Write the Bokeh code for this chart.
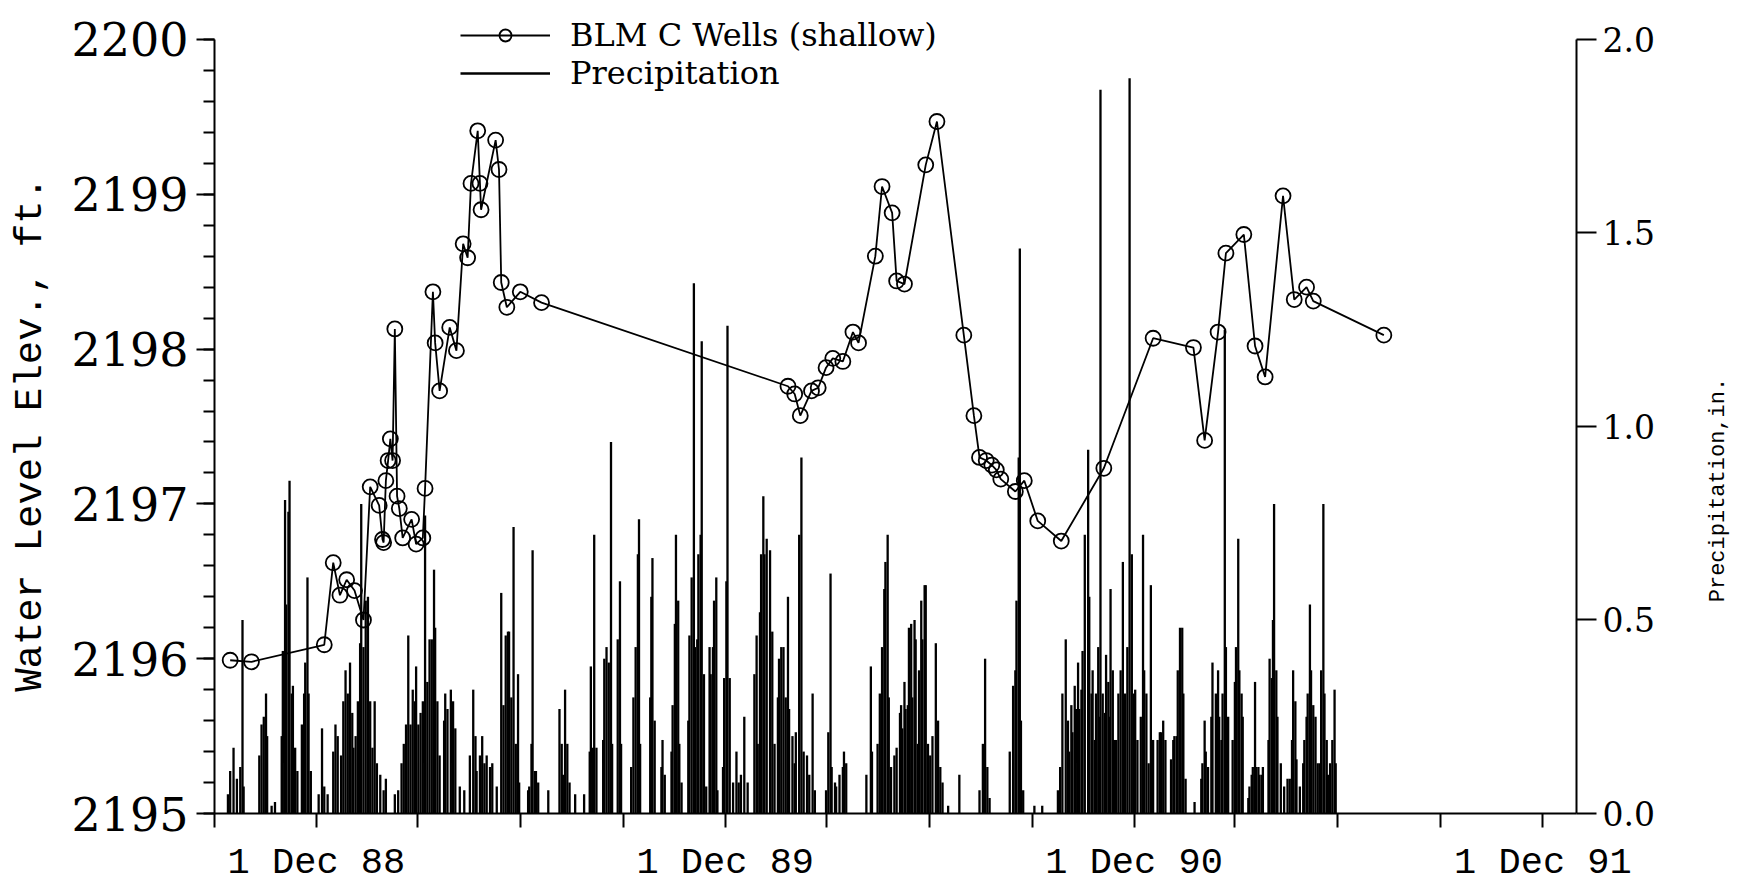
import pandas as pd
from math import pi
from bokeh.plotting import figure
from bokeh.models import (Range1d, LinearAxis, SingleIntervalTicker, FixedTicker,
                          Legend, LegendItem, ColumnDataSource, PrintfTickFormatter)
from bokeh.embed import file_html
from bokeh.resources import INLINE

# ---------------- data ----------------
# Water level, BLM C Wells (shallow), ft
well_date = ["1988-09-15", "1988-10-04", "1988-12-08", "1988-12-16", "1988-12-22", "1988-12-28",
             "1989-01-04", "1989-01-12", "1989-01-18", "1989-01-26", "1989-01-29", "1989-01-30",
             "1989-02-01", "1989-02-03", "1989-02-05", "1989-02-07", "1989-02-09", "1989-02-11",
             "1989-02-13", "1989-02-16", "1989-02-24", "1989-02-28", "1989-03-06", "1989-03-08",
             "1989-03-15", "1989-03-17", "1989-03-21", "1989-03-30", "1989-04-05", "1989-04-11",
             "1989-04-15", "1989-04-18", "1989-04-24", "1989-04-26", "1989-04-27", "1989-05-10",
             "1989-05-13", "1989-05-15", "1989-05-20", "1989-06-01", "1989-06-20",
             "1990-01-26", "1990-02-01", "1990-02-06", "1990-02-16", "1990-02-22", "1990-03-01",
             "1990-03-07", "1990-03-16", "1990-03-25", "1990-03-30", "1990-04-14", "1990-04-20",
             "1990-04-29", "1990-05-03", "1990-05-10", "1990-05-29", "1990-06-08", "1990-07-02",
             "1990-07-11", "1990-07-16", "1990-07-22", "1990-07-27", "1990-07-31", "1990-08-04",
             "1990-08-17", "1990-08-25", "1990-09-06", "1990-09-27", "1990-11-04", "1990-12-18",
             "1991-01-23", "1991-02-02", "1991-02-14", "1991-02-21", "1991-03-09", "1991-03-19",
             "1991-03-28", "1991-04-13", "1991-04-23", "1991-05-04", "1991-05-10", "1991-07-12"]
well_level = [2195.99, 2195.98, 2196.09, 2196.62, 2196.41, 2196.51,
              2196.44, 2196.25, 2197.11, 2196.99, 2196.77, 2196.75,
              2197.15, 2197.28, 2197.42, 2197.28, 2198.13, 2197.05,
              2196.97, 2196.78, 2196.90, 2196.74, 2196.78, 2197.10,
              2198.37, 2198.04, 2197.73, 2198.14, 2197.99, 2198.68,
              2198.59, 2199.07, 2199.41, 2199.07, 2198.90, 2199.35,
              2199.16, 2198.43, 2198.27, 2198.37, 2198.30,
              2197.76, 2197.71, 2197.57, 2197.73, 2197.75, 2197.88,
              2197.94, 2197.92, 2198.11, 2198.04, 2198.60, 2199.05,
              2198.88, 2198.44, 2198.42, 2199.19, 2199.47, 2198.09,
              2197.57, 2197.30, 2197.28, 2197.25, 2197.22, 2197.16,
              2197.08, 2197.15, 2196.89, 2196.76, 2197.23, 2198.07,
              2198.01, 2197.41, 2198.11, 2198.62, 2198.74, 2198.02,
              2197.82, 2198.99, 2198.32, 2198.40, 2198.31, 2198.09]

# Daily precipitation, inches; day = days after 1 Dec 1988 (rainy days only)
precip_day = [-79, -77, -74, -71, -68, -66, -65,
              -51, -49, -47, -45, -44, -40, -37,
              -31, -30, -28, -27, -25, -24, -22, -21, -19, -17,
              -13, -11, -10, -8, -7, -5,
              2, 5, 7, 10, 15, 17, 19, 22, 24, 26, 28, 30, 32, 33,
              35, 37, 39, 40, 42, 44, 46, 48, 50, 52, 54, 57, 60, 62,
              70, 73, 76, 78, 80, 82, 84, 86, 88, 89, 91, 93, 95,
              97, 99, 101, 103, 105, 106, 108, 110,
              114, 115, 117, 120, 122, 124, 128, 132,
              137, 140, 142, 143, 146, 148, 150, 152, 155, 157, 161,
              165, 167, 169, 171, 172, 174, 176, 178, 180, 181,
              189, 190, 192, 193, 195, 196, 198, 207,
              217, 219, 220, 222, 224, 226, 231, 239,
              244, 245, 247, 248, 250, 256, 257, 259, 261, 263, 264,
              269, 271, 272, 281, 283, 285, 287, 288, 289,
              298, 299, 300, 302, 308, 309, 311,
              317, 318, 320, 321, 323, 324, 326,
              332, 333, 335, 337, 338, 340, 341, 343, 344, 346, 348,
              351, 352, 354, 355, 357, 358,
              363, 364, 366, 367, 369, 372, 375, 377, 379, 382, 385,
              391, 393, 394, 396, 397, 399, 400, 402, 405, 407, 409,
              412, 413, 415, 417, 419, 421, 422, 425, 427, 428,
              431, 433, 435, 438, 440, 443, 445,
              455, 457, 459, 460, 463, 464, 467, 470, 471, 473,
              491, 495, 496, 501, 503, 505, 507, 508, 510, 511, 513,
              516, 518, 521, 522, 523, 525, 526, 528, 529, 531, 532,
              534, 535, 537, 538, 540, 541, 543, 544, 546, 548, 550, 553, 555, 557, 559,
              564, 574, 592, 595, 597, 599, 601,
              619, 622, 624, 625, 627, 628, 629, 631, 641, 648,
              662, 664, 666, 669, 671, 672, 674, 675, 677, 678, 680, 681, 683, 684, 686,
              689, 690, 692, 693, 695, 696, 698, 699, 700, 702, 704, 705, 707, 708, 709,
              711, 712, 714, 716, 718, 720, 722, 724, 726, 728, 730, 731, 733,
              736, 738, 739, 741, 743, 745, 747,
              751, 753, 754, 756, 758, 763, 765, 766, 768, 769, 771, 773, 774, 776,
              784, 790, 791, 793, 794, 796, 799, 800, 803, 805, 806, 808, 809, 811, 812, 814,
              818, 820, 821, 823, 824, 826, 827, 832, 833, 835, 836, 838, 839, 841, 842, 844, 845,
              850, 851, 853, 854, 855, 857, 858, 861, 864, 867, 869, 871, 872, 874, 875,
              878, 881, 882, 884, 885, 887, 888, 890, 892, 894, 896, 897, 899, 900, 902, 903, 905, 907, 909, 910]
precip_in = [0.05, 0.11, 0.17, 0.09, 0.12, 0.50, 0.07,
             0.15, 0.23, 0.25, 0.31, 0.20, 0.02, 0.03,
             0.20, 0.42, 0.81, 0.54, 0.78, 0.86, 0.31, 0.33, 0.17, 0.11,
             0.23, 0.31, 0.39, 0.61, 0.31, 0.11,
             0.05, 0.22, 0.07, 0.05, 0.16, 0.23, 0.20, 0.15, 0.29, 0.37, 0.31, 0.39, 0.26, 0.17,
             0.20, 0.29, 0.44, 0.80, 0.43, 0.55, 0.56, 0.29, 0.17, 0.29, 0.13, 0.10, 0.06, 0.09,
             0.05, 0.06, 0.13, 0.18, 0.23, 0.46, 0.23, 0.32, 0.29, 0.38, 0.23, 0.26, 0.29,
             0.77, 0.34, 0.45, 0.45, 0.63, 0.48, 0.29, 0.15,
             0.24, 0.31, 0.27, 0.32, 0.29, 0.22, 0.07, 0.06,
             0.15, 0.32, 0.20, 0.11, 0.15, 0.20, 0.13, 0.15, 0.12, 0.13, 0.07,
             0.57, 0.28, 0.46, 0.47, 0.47, 0.30, 0.74, 0.18, 0.36, 0.08,
             0.06, 0.07, 0.18, 0.68, 0.11, 0.11, 0.08, 0.06,
             0.27, 0.18, 0.10, 0.32, 0.18, 0.08, 0.05, 0.05,
             0.16, 0.38, 0.17, 0.72, 0.17, 0.19, 0.40, 0.43, 0.39, 0.96, 0.18,
             0.45, 0.60, 0.18, 0.12, 0.30, 0.43, 0.67, 0.76, 0.18,
             0.30, 0.56, 0.66, 0.24, 0.12, 0.19, 0.10,
             0.16, 0.28, 0.49, 0.72, 0.55, 0.18, 0.08,
             0.24, 0.46, 0.61, 1.37, 0.43, 0.45, 0.67, 0.72, 1.22, 0.36, 0.07,
             0.43, 0.36, 0.43, 0.55, 0.61, 0.06,
             0.12, 0.35, 0.60, 1.26, 0.35, 0.08, 0.16, 0.08, 0.10, 0.25, 0.08,
             0.36, 0.46, 0.18, 0.52, 0.67, 0.82, 0.67, 0.71, 0.68, 0.47, 0.18,
             0.30, 0.40, 0.43, 0.43, 0.30, 0.56, 0.27, 0.20, 0.13, 0.21,
             0.72, 0.92, 0.16, 0.15, 0.10, 0.31, 0.06,
             0.06, 0.21, 0.62, 0.12, 0.08, 0.07, 0.10, 0.12, 0.16, 0.13,
             0.10, 0.38, 0.16, 0.18, 0.31, 0.43, 0.58, 0.65, 0.72, 0.30, 0.12,
             0.15, 0.17, 0.26, 0.28, 0.22, 0.34, 0.27, 0.28, 0.48, 0.49, 0.30,
             0.50, 0.45, 0.18, 0.37, 0.55, 0.45, 0.59, 0.59, 0.18, 0.15, 0.20, 0.44, 0.24, 0.12, 0.08,
             0.02, 0.10, 0.06, 0.18, 0.40, 0.12, 0.04,
             0.16, 0.33, 0.37, 0.55, 0.92, 1.46, 0.24, 0.06, 0.02, 0.02,
             0.06, 0.12, 0.31, 0.45, 0.24, 0.16, 0.28, 0.21, 0.33, 0.27, 0.39, 0.27, 0.32, 0.42, 0.72,
             0.94, 0.56, 0.31, 0.37, 0.19, 0.31, 0.43, 0.25, 1.87, 0.31, 0.26, 0.41, 0.34, 0.25, 0.58,
             0.37, 0.19, 0.19, 0.31, 0.37, 0.65, 0.31, 0.43, 1.90, 0.67, 0.31, 0.32, 0.19,
             0.25, 0.72, 0.37, 0.31, 0.13, 0.59, 0.19,
             0.19, 0.21, 0.21, 0.24, 0.19, 0.14, 0.19, 0.20, 0.20, 0.37, 0.48, 0.48, 0.31, 0.09,
             0.03, 0.09, 0.13, 0.24, 0.16, 0.12, 0.25, 0.39, 0.31, 0.37, 0.25, 0.19, 0.31, 1.25, 0.43, 0.25,
             0.19, 0.34, 0.43, 0.71, 0.37, 0.31, 0.25, 0.04, 0.07, 0.10, 0.12, 0.34, 0.12, 0.12, 0.10, 0.10, 0.12,
             0.19, 0.40, 0.35, 0.50, 0.80, 0.37, 0.25, 0.13, 0.07, 0.09, 0.09, 0.19, 0.37, 0.29, 0.14,
             0.07, 0.13, 0.19, 0.25, 0.31, 0.54, 0.37, 0.28, 0.25, 0.13, 0.13, 0.37, 0.80, 0.31, 0.19, 0.10, 0.13, 0.19, 0.32, 0.13]

tick_dates = ["1988-09-01", "1988-12-01", "1989-03-01", "1989-06-01", "1989-09-01", "1989-12-01",
              "1990-03-01", "1990-06-01", "1990-09-01", "1990-12-01", "1991-03-01", "1991-06-01",
              "1991-09-01", "1991-12-01"]
tick_labels = ["", "1 Dec 88", "", "", "", "1 Dec 89", "", "", "", "1 Dec 90", "", "", "", "1 Dec 91"]
x_start, x_end = "1988-09-01", "1991-12-31"
level_min, level_max = 2195, 2200
precip_min, precip_max = 0.0, 2.0

assert len(precip_day) == len(precip_in)
assert len(well_date) == len(well_level)

ORIGIN = pd.Timestamp("1988-12-01")
def day(s):
    return (pd.Timestamp(s) - ORIGIN).days

well_x = [day(d) for d in well_date]
tick_x = [day(d) for d in tick_dates]

NBSP = "\u00a0"

# ---------------- figure ----------------
W, H = 1746, 891
HEAD = 0.04   # extra headroom (fraction of the axis span) so the legend can sit on the top edge
lev_span = level_max - level_min
pre_span = precip_max - precip_min
p = figure(width=W, height=H, output_backend="svg", toolbar_location=None,
           x_range=Range1d(day(x_start), day(x_end)),
           y_range=Range1d(level_min, level_max + HEAD * lev_span),
           min_border_left=214, min_border_right=170, min_border_top=8, min_border_bottom=78)
p.extra_y_ranges = {"precip": Range1d(precip_min, precip_max + HEAD * pre_span)}
p.outline_line_color = None
p.xgrid.visible = False
p.ygrid.visible = False
p.background_fill_color = "white"
p.border_fill_color = "white"

SERIF = "DejaVu Serif"
MONO = "Liberation Mono"

# bottom axis
xa = p.xaxis[0]
xa.ticker = FixedTicker(ticks=tick_x)
xa.major_label_overrides = {t: l for t, l in zip(tick_x, tick_labels)}
xa.major_tick_out = 14
xa.major_tick_in = 0
xa.minor_tick_out = 0
xa.axis_line_width = 2
xa.major_tick_line_width = 2
xa.major_label_text_font = MONO
xa.major_label_text_font_size = "37px"
xa.major_label_text_color = "black"
xa.major_label_standoff = 14

# left axis
ya = p.yaxis[0]
ya.bounds = (level_min, level_max)
ya.ticker = SingleIntervalTicker(interval=1, num_minor_ticks=5)
ya.major_tick_out = 18
ya.major_tick_in = 0
ya.minor_tick_out = 11
ya.minor_tick_in = 0
ya.axis_line_width = 2
ya.major_tick_line_width = 2
ya.minor_tick_line_width = 2
ya.major_label_text_font = SERIF
ya.major_label_text_font_size = "46px"
ya.major_label_text_color = "black"
ya.major_label_standoff = 8
ya.axis_label = "Water Level Elev., ft." + NBSP * 2
ya.axis_label_text_font = MONO
ya.axis_label_text_font_size = "39px"
ya.axis_label_text_font_style = "normal"
ya.axis_label_text_color = "black"
ya.axis_label_standoff = 15

# right axis (precipitation)
ra = LinearAxis(y_range_name="precip", bounds=(precip_min, precip_max),
                ticker=SingleIntervalTicker(interval=0.5, num_minor_ticks=0),
                formatter=PrintfTickFormatter(format="%.1f"))
ra.major_tick_out = 20
ra.major_tick_in = 0
ra.minor_tick_out = 0
ra.axis_line_width = 2
ra.major_tick_line_width = 2
ra.major_label_text_font = SERIF
ra.major_label_text_font_size = "33px"
ra.major_label_text_color = "black"
ra.major_label_standoff = 6
ra.axis_label_orientation = pi / 2          # reads bottom-to-top
if "axis_label_align" in ra.properties():
    ra.axis_label_align = "start"
    ra.axis_label = NBSP * 16 + "Precipitation,in."
else:
    ra.axis_label = "Precipitation,in."
ra.axis_label_text_font = MONO
ra.axis_label_text_font_size = "22px"
ra.axis_label_text_font_style = "normal"
ra.axis_label_text_color = "black"
ra.axis_label_standoff = 61
p.add_layout(ra, "right")

# ---------------- glyphs ----------------
psrc = ColumnDataSource(dict(x=precip_day, top=precip_in, base=[0] * len(precip_day)))
prec = p.segment(x0="x", y0="base", x1="x", y1="top", source=psrc, y_range_name="precip",
                 line_color="black", line_width=2.3)

wsrc = ColumnDataSource(dict(x=well_x, y=well_level))
wline = p.line("x", "y", source=wsrc, line_color="black", line_width=1.8)
wpts = p.scatter("x", "y", source=wsrc, marker="circle", size=15, fill_color=None,
                 line_color="black", line_width=1.8)

common = dict(orientation="vertical", glyph_width=90, glyph_height=30, label_standoff=20,
              spacing=0, padding=0, margin=0, label_text_font=SERIF,
              label_text_font_size="32px", label_text_color="black",
              border_line_color=None, background_fill_alpha=0)
leg1 = Legend(items=[LegendItem(label="BLM C Wells (shallow)", renderers=[wline, wpts])],
              location=(246, 759), **common)
leg2 = Legend(items=[LegendItem(label="Precipitation", renderers=[prec])],
              location=(246, 721), **common)
p.add_layout(leg1, "center")
p.add_layout(leg2, "center")

open("out.html", "w").write(file_html(p, INLINE))
